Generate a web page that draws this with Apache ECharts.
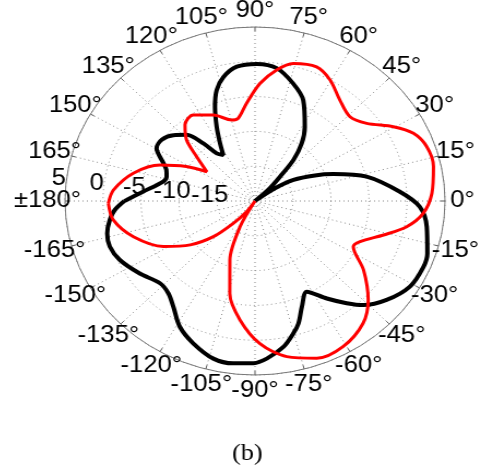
<!DOCTYPE html>
<html>
<head>
<meta charset="utf-8">
<script src="https://cdn.jsdelivr.net/npm/echarts@6/dist/echarts.min.js"></script>
<style>
  html, body { margin: 0; padding: 0; background: #fff; }
  #chart {
    width: 489px;
    height: 470px;
    /* reference is stretched horizontally */
    transform: scaleX(1.092);
    transform-origin: 255px 201px;
  }
</style>
</head>
<body>
<div id="chart"></div>
<script>
// angle in degrees (0 = right, counter-clockwise), value in dB
const blackAngle = [-180, -176, -171.9, -166.5, -161.1, -154.5, -145.5, -136.6, -130.6, -125.3,
  -118.7, -111.7, -103.6, -97, -90.5, -86.1, -79.9, -75.2, -72, -67.9,
  -62.4, -56, -50.6, -46.4, -39.4, -31.1, -23.1, -18.4, -9.3, -2.2,
  4, 13.4, 20.6, 25, 30.9, 35, 39, 43, 46.7, 49.4,
  53.4, 58.4, 66.3, 73.4, 81.5, 89.3, 97.1, 103.1, 107.6, 111.3,
  115.3, 119, 122.3, 126.4, 129.4, 133.5, 138.6, 144.4, 149.7, 155.8,
  159, 163.2, 167, 174.8, 179.5]
const blackDb = [-2.8, -1.5, -0.7, 0, 0.2, -0.3, -1.6, -2.8, -2.5, -1.4,
  0.6, 2, 3.3, 3.5, 3.3, 2.7, 1.3, -0.3, -1.5, -3.6,
  -5.3, -3.1, -1, 0.65, 2.4, 3.8, 4.1, 3.9, 2.9, 1.7,
  -0.9, -4.9, -9, -11.3, -14.1, -17, -20, -17.5, -15.2, -12.2,
  -9.7, -7.5, -4.2, -2.4, -0.7, -0.3, -0.55, -1.7, -3.3, -5.5,
  -8.2, -10.5, -12.2, -11.5, -9.3, -6.9, -5.7, -4.9, -5, -6.8,
  -7.5, -7.85, -7.6, -5.2, -3.1]

const redAngle = [-179, -171.7, -162.2, -151.5, -143.5, -136.9, -131.7, -125.8, -122, -118,
  -111.3, -104, -96.6, -88.2, -79.4, -70.2, -60.9, -51, -43.7, -34.8,
  -26.9, -22.9, -16.1, -10.5, -4.6, 2.7, 11.9, 19.1, 25, 30.4,
  37.2, 44.1, 52.4, 60.4, 67.2, 75.7, 81.4, 87.8, 94.5, 100.5,
  104.8, 113.9, 123.3, 130.1, 135.7, 140.3, 146.4, 151.3, 157.5, 166,
  175.2]
const redDb = [-0.7, -1.15, -3.2, -6.3, -9.4, -12.5, -15.7, -18.1, -20, -15.8,
  -10.9, -6.3, -2.8, 0.5, 2.75, 4, 3.9, 2.6, 0.6, -2.6,
  -5.5, -5, -2.4, 0.3, 2.2, 3.3, 4, 3.9, 3, 1.1,
  -1.55, -2.6, -1.7, 0, 0.9, 0.4, -0.95, -3.1, -5.9, -7.9,
  -7.95, -6.5, -5.2, -5.7, -7.4, -10, -12.4, -9.7, -6.5, -3.5,
  -1.3]

// tick labels
const angleTicks = [0, 15, 30, 45, 60, 75, 90, 105, 120, 135, 150, 165, 180,
  -165, -150, -135, -120, -105, -90, -75, -60, -45, -30, -15]
const angleLabels = ['0°', '15°', '30°', '45°', '60°', '75°', '90°', '105°', '120°', '135°', '150°', '165°', '±180°',
  '-165°', '-150°', '-135°', '-120°', '-105°', '-90°', '-75°', '-60°', '-45°', '-30°', '-15°']
const rTicks = [5, 0, -5, -10, -15]

// axis starts at 180 deg (radius labels on the left), so shift angles by 180
function toPolar(angles, values) {
  let out = []
  for (let i = 0; i < angles.length; i++) {
    out.push([values[i], angles[i] + 180])
  }
  out.push([values[0], angles[0] + 180 + 360])
  return out
}

let myChart = echarts.init(document.getElementById('chart'))
let option = {
  animation: false,
  title: {
    text: '(b)',
    left: 229,
    top: 437,
    textStyle: {
      fontFamily: 'Liberation Serif',
      fontSize: 24,
      fontWeight: 'normal',
      color: '#000'
    }
  },
  polar: {
    center: [255, 201],
    radius: 174
  },
  angleAxis: {
    type: 'value',
    min: 0,
    max: 360,
    interval: 15,
    startAngle: 180,
    clockwise: false,
    axisLine: {
      lineStyle: { color: '#777', width: 1 }
    },
    axisTick: {
      show: true,
      inside: true,
      length: 4,
      lineStyle: { color: '#555' }
    },
    axisLabel: { show: false },
    splitLine: {
      show: true,
      lineStyle: { color: '#888', type: [1, 3], width: 1 }
    }
  },
  radiusAxis: {
    type: 'value',
    min: -20,
    max: 5,
    interval: 5,
    axisLine: { show: false },
    axisTick: { show: false },
    axisLabel: { show: false },
    splitLine: {
      show: true,
      lineStyle: { color: '#888', type: [1, 3], width: 1 }
    }
  },
  series: [
    {
      type: 'line',
      coordinateSystem: 'polar',
      data: toPolar(blackAngle, blackDb),
      smooth: 0.3,
      symbol: 'none',
      lineStyle: { color: '#000', width: 4 }
    },
    {
      type: 'line',
      coordinateSystem: 'polar',
      data: toPolar(redAngle, redDb),
      smooth: 0.3,
      symbol: 'none',
      lineStyle: { color: '#ff0000', width: 3 }
    }
  ]
}
myChart.setOption(option)

// labels centred outside the rim (like matlab's polar), placed with the polar scale
let labelR = 7.3
let labels = []
angleTicks.forEach(function (t, i) {
  let p = myChart.convertToPixel({ polarIndex: 0 }, [labelR, t + 180])
  labels.push({
    type: 'text',
    x: p[0],
    y: p[1],
    z: 20,
    style: {
      text: angleLabels[i],
      align: 'center',
      verticalAlign: 'middle',
      fontFamily: 'Liberation Sans',
      fontSize: 23.5,
      fill: '#000'
    }
  })
})
rTicks.forEach(function (v) {
  let p = myChart.convertToPixel({ polarIndex: 0 }, [v + 1, 173 + 180])
  labels.push({
    type: 'text',
    x: p[0],
    y: p[1],
    z: 20,
    style: {
      text: String(v),
      align: 'center',
      verticalAlign: 'middle',
      fontFamily: 'Liberation Sans',
      fontSize: 23.5,
      fill: '#000'
    }
  })
})
myChart.setOption({ graphic: labels })
</script>
</body>
</html>
